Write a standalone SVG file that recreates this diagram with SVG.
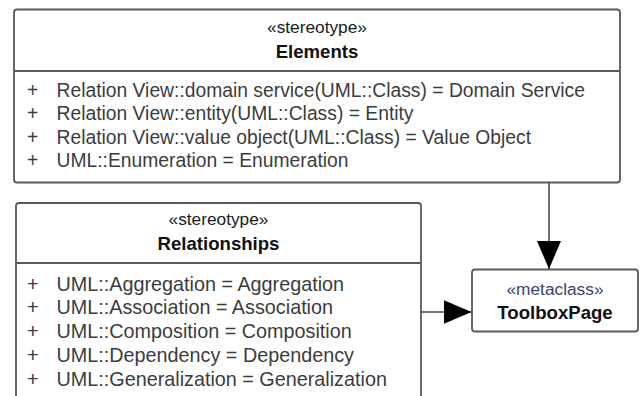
<svg xmlns="http://www.w3.org/2000/svg" width="642" height="396" viewBox="0 0 642 396">
  <style>
    .box { fill: #ffffff; stroke: #5a5a5a; stroke-width: 1.8; }
    .sep { stroke: #5a5a5a; stroke-width: 1.8; }
    .stereo { font-family: "Liberation Sans", Arial, sans-serif; font-size: 17.3px; fill: #1a1a1a; text-anchor: middle; }
    .meta { font-family: "Liberation Sans", Arial, sans-serif; font-size: 17.3px; fill: #3a4470; text-anchor: middle; }
    .name { font-family: "Liberation Sans", Arial, sans-serif; font-size: 18.6px; font-weight: bold; fill: #111111; text-anchor: middle; }
    .attr { font-family: "Liberation Sans", Arial, sans-serif; font-size: 19.3px; fill: #3c3c3c; }
    .attr.rel { font-size: 19.8px; }
    .edge { stroke: #444444; stroke-width: 1.5; fill: none; }
  </style>
  <defs>
    <marker id="arrow" viewBox="0 0 28 24" refX="28" refY="12" markerWidth="28" markerHeight="24" markerUnits="userSpaceOnUse" orient="auto">
      <path d="M0,0 L28,12 L0,24 Z" fill="#000000"/>
    </marker>
  </defs>

  <rect width="642" height="396" fill="#ffffff"/>

  <!-- Stereotype: Elements -->
  <g id="elements">
    <rect class="box" x="14" y="9.5" width="606" height="173" rx="3"/>
    <line class="sep" x1="14" y1="71" x2="620" y2="71"/>
    <text class="stereo" x="317" y="33">«stereotype»</text>
    <text class="name" x="317" y="58">Elements</text>
    <text class="attr" x="27" y="96.5">+</text>
    <text class="attr" x="56.5" y="96.5">Relation View::domain service(UML::Class) = Domain Service</text>
    <text class="attr" x="27" y="120">+</text>
    <text class="attr" x="56.5" y="120">Relation View::entity(UML::Class) = Entity</text>
    <text class="attr" x="27" y="143.5">+</text>
    <text class="attr" x="56.5" y="143.5">Relation View::value object(UML::Class) = Value Object</text>
    <text class="attr" x="27" y="167">+</text>
    <text class="attr" x="56.5" y="167">UML::Enumeration = Enumeration</text>
  </g>

  <!-- Stereotype: Relationships -->
  <g id="relationships">
    <rect class="box" x="16" y="203" width="405" height="220" rx="3"/>
    <line class="sep" x1="16" y1="263" x2="421" y2="263"/>
    <text class="stereo" x="218.5" y="225">«stereotype»</text>
    <text class="name" x="218.5" y="250">Relationships</text>
    <text class="attr rel" x="27" y="290.5">+</text>
    <text class="attr rel" x="56.5" y="290.5">UML::Aggregation = Aggregation</text>
    <text class="attr rel" x="27" y="314.3">+</text>
    <text class="attr rel" x="56.5" y="314.3">UML::Association = Association</text>
    <text class="attr rel" x="27" y="338.1">+</text>
    <text class="attr rel" x="56.5" y="338.1">UML::Composition = Composition</text>
    <text class="attr rel" x="27" y="361.9">+</text>
    <text class="attr rel" x="56.5" y="361.9">UML::Dependency = Dependency</text>
    <text class="attr rel" x="27" y="385.7">+</text>
    <text class="attr rel" x="56.5" y="385.7">UML::Generalization = Generalization</text>
  </g>

  <!-- Metaclass: ToolboxPage -->
  <g id="toolboxpage">
    <rect class="box" x="472" y="269.5" width="166" height="62" rx="3"/>
    <text class="meta" x="555" y="294.5">«metaclass»</text>
    <text class="name" x="555" y="318.5">ToolboxPage</text>
  </g>

  <!-- Connectors -->
  <g id="connectors">
    <line class="edge" x1="549" y1="182.5" x2="549" y2="269" marker-end="url(#arrow)"/>
    <line class="edge" x1="421" y1="312" x2="471.5" y2="312" marker-end="url(#arrow)"/>
  </g>
</svg>
